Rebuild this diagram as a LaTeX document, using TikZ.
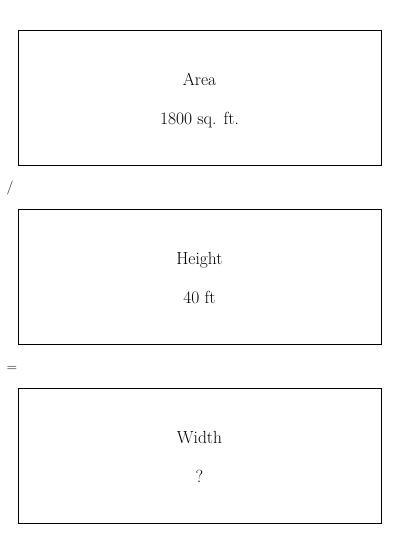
\documentclass[tikz,border=0pt]{standalone}
\begin{document}
\begin{tikzpicture}[x=1pt,y=-1pt,
  box/.style={draw=black, line width=0.8pt},
  lbl/.style={font=\fontsize{17.5}{21}\selectfont, inner sep=0pt, anchor=base},
  op/.style={font=\fontsize{14}{17}\selectfont, inner sep=0pt}]
\useasboundingbox (0,0) rectangle (400,534);
\draw[box] (18,30) rectangle (381,165);
\draw[box] (18,209) rectangle (381,344);
\draw[box] (18,388) rectangle (381,523);
\node[lbl] (a1) at (199.5,85.5) {Area};
\node[lbl] (a2) at (199.5,124.5) {1800 sq. ft.};
\node[lbl] (h1) at (199.5,264.5) {Height};
\node[lbl] (h2) at (199.5,303.5) {40 ft};
\node[lbl] (w1) at (199.5,443.5) {Width};
\node[lbl] (w2) at (199.5,482.5) {?};
\node[op] (div) at (10,188) {/};
\node[op] (eq) at (12,369) {=};
\end{tikzpicture}
\end{document}
